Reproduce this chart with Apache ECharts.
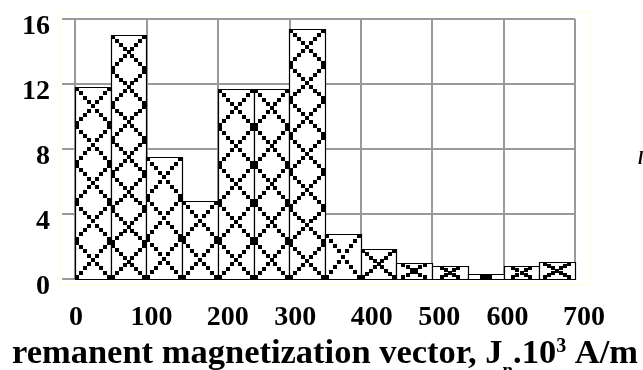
<!DOCTYPE html>
<html>
<head>
<meta charset="utf-8">
<script src="https://cdn.jsdelivr.net/npm/echarts@6/dist/echarts.min.js"></script>
<style>html,body{margin:0;padding:0;background:#fff}#c{width:643px;height:370px}</style>
</head>
<body>
<div id="c"></div>
<script>
// Data
const binStarts = [0, 50, 100, 150, 200, 250, 300, 350, 400, 450, 500, 550, 600, 650];
const binWidth = 50;
const counts = [11.8, 15.0, 7.5, 4.8, 11.7, 11.7, 15.4, 2.8, 1.85, 1.0, 0.82, 0.3, 0.82, 1.03];
const xTicks = [0, 100, 200, 300, 400, 500, 600, 700];
const yTicks = [0, 4, 8, 12, 16];

const xOffsets = [1, 5, 10, 6, 11, 7, 4, 9];
const FONT = '"Liberation Serif", "Times New Roman", serif';

const chart = echarts.init(document.getElementById('c'), null, {renderer: 'canvas'});

const xRich = {};
xTicks.forEach((t, i) => {
  xRich['o' + i] = {fontFamily: FONT, fontWeight: 'bold', fontSize: 28, color: '#000', lineHeight: 28, padding: [0, 0, 0, 2 * xOffsets[i]]};
});

function renderBin(params, api) {
  const x0 = api.value(0);
  const v = api.value(1);
  const p0 = api.coord([x0, 0]);
  const p1 = api.coord([x0 + binWidth, v]);
  const left = Math.round(p0[0]), right = Math.round(p1[0]);
  const bottom = Math.round(p0[1]), top = Math.round(p1[1]);
  const w = right - left, h = bottom - top;
  const children = [{
    type: 'rect',
    shape: {x: left + 0.5, y: top + 0.5, width: w, height: h},
    style: {fill: '#fff', stroke: '#000', lineWidth: 1.2}
  }];
  const s = Math.min(4, Math.max(2, h - 1));
  const n = Math.max(1, Math.round(h / 36));
  const ch = h / n;
  const xw = Math.min(w, Math.max(ch * 1.6, 12));
  const x1 = left + (w - xw) / 2;
  const k = Math.max(2, Math.round((xw - s) / 4) + 1);
  for (let c = 0; c < n; c++) {
    const cy = top + c * ch;
    for (let i = 0; i < k; i++) {
      const fx = (xw - s) * i / (k - 1);
      const fy = Math.max(0, ch - s) * i / (k - 1);
      const xa = Math.round(x1 + fx);
      const xb = Math.round(x1 + (xw - s) - fx);
      const ya = Math.round(cy + fy);
      children.push({type: 'rect', shape: {x: xa, y: ya, width: s, height: s}, style: {fill: '#000'}});
      children.push({type: 'rect', shape: {x: xb, y: ya, width: s, height: s}, style: {fill: '#000'}});
    }
  }
  return {type: 'group', children: children};
}

const option = {
  animation: false,
  backgroundColor: '#fff',
  grid: {left: 75, right: 68, top: 19, bottom: 91, outerBoundsMode: 'none', containLabel: false},
  graphic: [
    {type: 'rect', shape: {x: 60, y: 12, width: 530, height: 273}, style: {fill: 'none', stroke: '#fdfdd8', lineWidth: 1}, z: -1},
    {type: 'text', left: 638, top: 150, style: {text: 'l', font: 'italic bold 18px ' + FONT, fill: '#000'}}
  ],
  xAxis: {
    type: 'value', min: 0, max: 700, interval: 100,
    axisLine: {show: false},
    axisTick: {show: false},
    splitLine: {show: true, lineStyle: {color: '#999', width: 2}},
    axisLabel: {
      margin: 25,
      formatter: function (val) { const i = xTicks.indexOf(val); return '{o' + i + '|' + val + '}'; },
      rich: xRich
    },
    name: '{a|remanent magnetization vector, J}{s|n}{a|.10}{p|3}{a| A/m}',
    nameLocation: 'middle',
    nameGap: 52,
    nameTextStyle: {
      rich: {
        a: {fontFamily: FONT, fontWeight: 'bold', fontSize: 34.5, lineHeight: 32, color: '#000', verticalAlign: 'top'},
        s: {fontFamily: FONT, fontWeight: 'bold', fontSize: 19, lineHeight: 19, color: '#000', verticalAlign: 'top', padding: [25, 0, 0, 0]},
        p: {fontFamily: FONT, fontWeight: 'bold', fontSize: 20, lineHeight: 20, color: '#000', verticalAlign: 'top', padding: [0, 0, 0, 0]}
      }
    }
  },
  yAxis: {
    type: 'value', min: 0, max: 16, interval: 4,
    axisLine: {show: false},
    axisTick: {show: true, length: 13, lineStyle: {color: '#999', width: 2}},
    splitLine: {show: true, lineStyle: {color: '#999', width: 2}},
    axisLabel: {
      margin: 25,
      formatter: function (val) { return '{v|' + val + '}'; },
      rich: {v: {fontFamily: FONT, fontWeight: 'bold', fontSize: 28, lineHeight: 28, color: '#000', padding: [16, 0, 0, 0]}}
    }
  },
  series: [{
    type: 'custom',
    renderItem: renderBin,
    encode: {x: 0, y: 1},
    data: binStarts.map((b, i) => [b, counts[i]]),
    z: 5
  }]
};
chart.setOption(option);
</script>
</body>
</html>
